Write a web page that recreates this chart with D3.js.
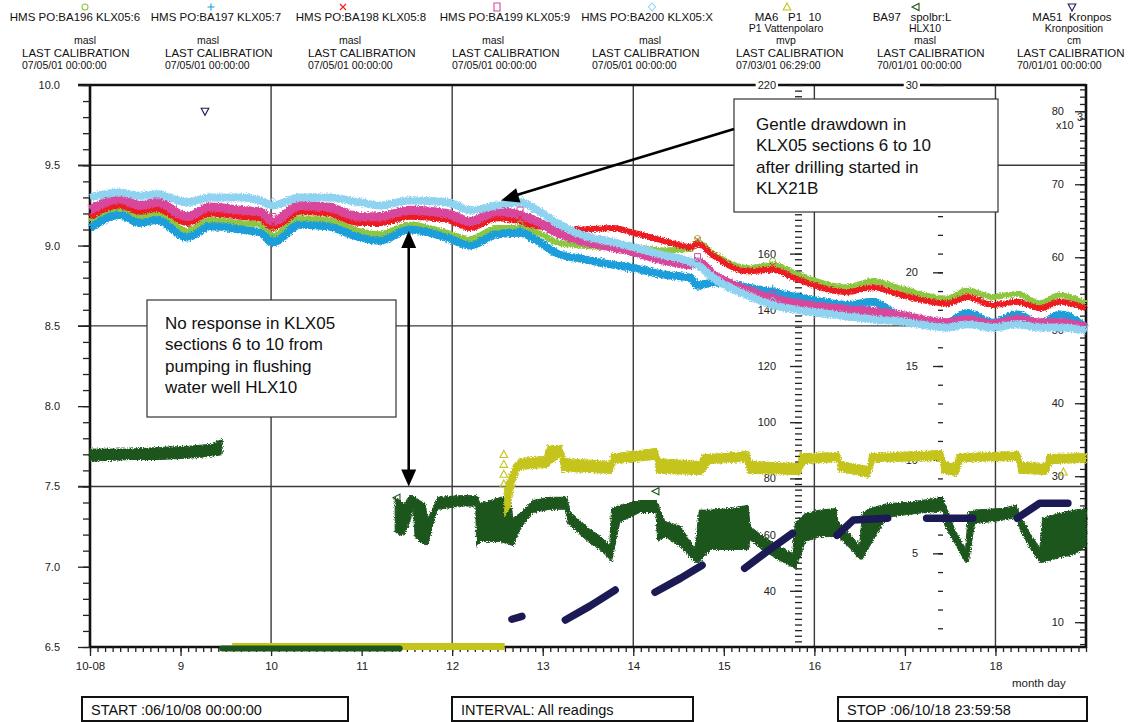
<!DOCTYPE html>
<html>
<head>
<meta charset="utf-8">
<script src="https://cdn.jsdelivr.net/npm/d3@7"></script>
<style>
body { margin: 0; background: #fff; }
</style>
</head>
<body>
<script>
// ---- data (day of October 2006, values in axis units) ----
var days = [8.00, 8.33, 8.55, 8.74, 9.07, 9.33, 9.66, 9.88, 10.02, 10.32, 10.62, 10.98, 11.20, 11.53, 11.94, 12.20, 12.49, 12.75, 12.94, 13.16,
            13.41, 13.78, 14.00, 14.33, 14.63, 14.71, 14.88, 15.26, 15.54, 15.81, 16.36, 16.65, 16.91, 17.46, 17.69, 17.97, 18.24, 18.49, 18.71, 19.00];
var klx05_6 = [9.15, 9.23, 9.18, 9.20, 9.09, 9.16, 9.14, 9.13, 9.06, 9.17, 9.16, 9.09, 9.07, 9.13, 9.08, 9.04, 9.11, 9.11, 9.08, 9.02,
               9.00, 8.99, 8.99, 8.97, 8.98, 9.02, 8.95, 8.86, 8.88, 8.82, 8.74, 8.78, 8.74, 8.67, 8.72, 8.68, 8.70, 8.64, 8.69, 8.64];
var klx05_7 = [9.11, 9.19, 9.14, 9.16, 9.05, 9.12, 9.10, 9.08, 9.02, 9.13, 9.12, 9.05, 9.03, 9.10, 9.05, 9.00, 9.07, 9.08, 9.03, 8.95,
               8.92, 8.88, 8.86, 8.82, 8.80, 8.75, 8.77, 8.74, 8.71, 8.68, 8.63, 8.65, 8.57, 8.52, 8.58, 8.52, 8.57, 8.51, 8.57, 8.49];
var klx05_8 = [9.18, 9.25, 9.21, 9.23, 9.14, 9.20, 9.18, 9.17, 9.11, 9.21, 9.20, 9.14, 9.14, 9.18, 9.16, 9.11, 9.17, 9.15, 9.12, 9.11,
               9.10, 9.11, 9.08, 9.03, 8.99, 9.01, 8.94, 8.84, 8.85, 8.79, 8.71, 8.74, 8.70, 8.64, 8.68, 8.63, 8.65, 8.61, 8.65, 8.61];
var klx05_9 = [9.22, 9.29, 9.25, 9.27, 9.18, 9.24, 9.22, 9.21, 9.15, 9.25, 9.24, 9.18, 9.18, 9.22, 9.20, 9.15, 9.21, 9.19, 9.15, 9.08,
               9.03, 8.99, 8.96, 8.91, 8.88, 8.90, 8.82, 8.72, 8.67, 8.64, 8.60, 8.59, 8.57, 8.52, 8.54, 8.51, 8.54, 8.52, 8.52, 8.49];
var klx05_x = [9.30, 9.33, 9.31, 9.32, 9.27, 9.30, 9.30, 9.28, 9.25, 9.30, 9.30, 9.27, 9.25, 9.28, 9.27, 9.22, 9.25, 9.27, 9.22, 9.14,
               9.07, 9.02, 8.99, 8.94, 8.90, 8.88, 8.80, 8.69, 8.63, 8.60, 8.56, 8.54, 8.53, 8.49, 8.51, 8.49, 8.51, 8.49, 8.49, 8.47];
var klxMarkIdx = [8, 17, 25, 28];

// HLX10 (masl) upper / lower edge of the band, null = gap
var hlxDays = [8.00, 8.44, 8.77, 9.14, 9.33, 9.46, null,
  11.37, 11.42, 11.47, 11.53, 11.57, 11.59, 11.64, 11.70, 11.73, 11.78, 11.84, 12.09, 12.26, 12.27, 12.31, 12.42, 12.53, 12.64, 12.67,
  12.75, 12.89, 13.08, 13.25, 13.27, 13.30, 13.52, 13.63, 13.74, 13.76, 13.85, 14.07, 14.25, 14.27, 14.35, 14.52, 14.68, 14.73, 14.85,
  15.07, 15.27, 15.29, 15.40, 15.56, 15.76, 15.79, 15.90, 16.06, 16.24, 16.26, 16.39, 16.50, 16.53, 16.61, 16.80, 17.06, 17.42, 17.44,
  17.55, 17.67, 17.70, 17.77, 18.05, 18.24, 18.26, 18.38, 18.49, 18.52, 18.71, 18.88, 19.00];
var hlxHi = [7.72, 7.72, 7.73, 7.74, 7.75, 7.78, null,
  7.42, 7.40, 7.38, 7.43, 7.43, 7.42, 7.40, 7.38, 7.29, 7.34, 7.42, 7.43, 7.43, 7.43, 7.38, 7.40, 7.42, 7.42, 7.29,
  7.32, 7.40, 7.42, 7.42, 7.42, 7.33, 7.22, 7.18, 7.12, 7.35, 7.37, 7.40, 7.40, 7.38, 7.27, 7.24, 7.10, 7.34, 7.34,
  7.35, 7.37, 7.24, 7.19, 7.13, 7.07, 7.26, 7.32, 7.34, 7.35, 7.27, 7.19, 7.12, 7.32, 7.35, 7.38, 7.39, 7.42, 7.38,
  7.22, 7.10, 7.32, 7.34, 7.35, 7.37, 7.32, 7.20, 7.10, 7.29, 7.32, 7.34, 7.35];
var hlxLo = [7.67, 7.68, 7.68, 7.69, 7.70, 7.71, null,
  7.23, 7.21, 7.21, 7.29, 7.38, 7.20, 7.17, 7.15, 7.15, 7.26, 7.37, 7.39, 7.39, 7.14, 7.17, 7.17, 7.17, 7.15, 7.14,
  7.25, 7.35, 7.37, 7.37, 7.29, 7.27, 7.16, 7.12, 7.06, 7.04, 7.29, 7.35, 7.35, 7.17, 7.20, 7.14, 7.04, 7.04, 7.12,
  7.12, 7.12, 7.18, 7.13, 7.07, 7.01, 7.00, 7.17, 7.20, 7.20, 7.20, 7.13, 7.06, 7.06, 7.14, 7.32, 7.34, 7.36, 7.27,
  7.16, 7.04, 7.04, 7.28, 7.30, 7.32, 7.26, 7.13, 7.04, 7.04, 7.07, 7.09, 7.14];
var hlxBelowDays = [9.46, 11.42];           // readings below 6.5 masl, drawn on the axis
var hlxMarkDays = [11.39, 14.25], hlxMarkVals = [7.43, 7.47];

// MA6 P1 10 (mvp), upper / lower edge
var ma6Days = [12.58, 12.64, 12.69, 12.75, 13.02, 13.05, 13.19, 13.21, 13.25, 13.74, 13.76, 13.80, 14.24, 14.26, 14.29, 14.73, 14.76, 14.85,
  15.23, 15.27, 15.31, 15.82, 15.84, 15.90, 16.25, 16.27, 16.30, 16.59, 16.61, 16.66, 17.39, 17.41, 17.45, 17.55, 17.58, 17.63,
  18.24, 18.26, 18.30, 18.55, 18.57, 18.62, 19.00];
var ma6Hi = [75.9, 81.2, 84.8, 86.5, 87.3, 91.2, 91.2, 91.2, 86.5, 85.5, 88.3, 88.3, 90.1, 90.1, 86.5, 85.5, 88.0, 88.0,
  89.0, 89.0, 85.5, 84.8, 88.3, 88.3, 88.7, 88.7, 85.5, 83.7, 88.3, 88.3, 89.4, 89.4, 85.5, 84.8, 88.3, 88.3,
  89.0, 89.0, 85.1, 84.8, 88.0, 88.0, 88.3];
var ma6Lo = [67.0, 70.5, 79.4, 83.7, 84.4, 84.4, 88.3, 83.0, 83.0, 82.3, 82.3, 85.8, 87.3, 82.3, 82.3, 81.9, 81.9, 85.8,
  86.5, 82.3, 82.3, 81.9, 81.9, 85.8, 86.5, 83.0, 83.0, 80.9, 80.9, 86.5, 86.9, 82.3, 82.3, 81.6, 81.6, 86.5,
  86.9, 82.3, 82.3, 81.9, 81.9, 85.8, 86.2];
var ma6BelowDays = [9.57, 12.58];
var ma6MarkDays = [12.57, 12.57, 12.57, 12.57, 18.75], ma6MarkVals = [88.5, 85.0, 81.5, 78.0, 82.3];

// MA51 Kronpos (cm x 10^3)
var kronDays = [12.66, 12.77, null, 13.25, 13.52, 13.80, null, 14.24, 14.52, 14.76, null, 15.23, 15.50, 15.76, null,
                16.25, 16.43, 16.81, null, 17.24, 17.75, null, 18.24, 18.49, 18.80];
var kronVals = [10.4, 10.8, null, 10.3, 12.2, 14.4, null, 14.1, 16.0, 17.8, null, 17.4, 19.9, 22.2, null,
                21.9, 24.0, 24.25, null, 24.25, 24.25, null, 24.25, 26.3, 26.3];
var kronMarkDays = [9.27], kronMarkVals = [80.0];

// axis tick labels
var leftTicks = [6.5, 7.0, 7.5, 8.0, 8.5, 9.0, 9.5, 10.0];
var midLabels = [40, 60, 80, 100, 120, 140, 160, 220];
var labels30 = [5, 10, 15, 20, 30];
var rightLabels = [10, 20, 30, 40, 50, 60, 70, 80];

// header and footer texts
var header1 = ["HMS PO:BA196 KLX05:6", "HMS PO:BA197 KLX05:7", "HMS PO:BA198 KLX05:8", "HMS PO:BA199 KLX05:9", "HMS PO:BA200 KLX05:X",
               "MA6   P1  10", "BA97   spolbr:L", "MA51  Kronpos"];
var header2 = ["", "", "", "", "", "P1 Vattenpolaro", "HLX10", "Kronposition"];
var header3 = ["masl", "masl", "masl", "masl", "masl", "mvp", "masl", "cm"];
var calibDates = ["07/05/01 00:00:00", "07/05/01 00:00:00", "07/05/01 00:00:00", "07/05/01 00:00:00", "07/05/01 00:00:00",
                  "07/03/01 06:29:00", "70/01/01 00:00:00", "70/01/01 00:00:00"];
var footer = ["START :06/10/08 00:00:00", "INTERVAL: All readings", "STOP :06/10/18 23:59:58"];
var note1 = ["No response in KLX05", "sections 6 to 10 from", "pumping in flushing", "water well HLX10"];
var note2 = ["Gentle drawdown in", "KLX05 sections 6 to 10", "after drilling started in", "KLX21B"];

// ---- layout ----
var W = 1134, H = 722;
var font = "'Liberation Sans', Arial, Helvetica, sans-serif";
var colors = ["#8dc63f", "#1a9edb", "#ec1c24", "#d8479b", "#8fd3f0", "#c4c41c", "#1d561d", "#1b1a55"];
var klxSeries = [klx05_6, klx05_7, klx05_8, klx05_9, klx05_x];
var klxWidth = [6, 8, 6, 9, 8];

var x = d3.scaleLinear().domain([8, 19]).range([90, 1086]);
var yL = d3.scaleLinear().domain([6.5, 10]).range([647, 85]);
var yMid = d3.scaleLinear().domain([20, 220]).range([647, 85]);
var y30 = d3.scaleLinear().domain([0, 30]).range([647, 85]);
var yR = d3.scaleLinear().domain([6.6, 83.6]).range([647, 85]);

var svg = d3.select("body").append("svg")
    .attr("width", W).attr("height", H)
    .style("font-family", font);

var defs = svg.append("defs");
var rough = defs.append("filter").attr("id", "rough")
    .attr("x", "-5%").attr("y", "-40%").attr("width", "110%").attr("height", "180%");
rough.append("feTurbulence").attr("type", "fractalNoise").attr("baseFrequency", 0.8)
    .attr("numOctaves", 1).attr("seed", 3).attr("result", "n");
rough.append("feDisplacementMap").attr("in", "SourceGraphic").attr("in2", "n")
    .attr("scale", 5).attr("xChannelSelector", "R").attr("yChannelSelector", "G");

// grid
var grid = svg.append("g").attr("stroke", "#3a3a3a").attr("stroke-width", 1.4);
grid.selectAll("line.v").data([10, 12, 14, 16, 18]).enter().append("line")
    .attr("x1", d => x(d)).attr("x2", d => x(d)).attr("y1", yL(10)).attr("y2", yL(6.5));
grid.selectAll("line.h").data([9.5, 8.5, 7.5]).enter().append("line")
    .attr("x1", 78).attr("x2", x(19)).attr("y1", d => yL(d)).attr("y2", d => yL(d));

// frame
var frame = svg.append("g").attr("stroke", "#111").attr("stroke-width", 2.6).attr("fill", "none");
frame.append("line").attr("x1", 78).attr("x2", x(19)).attr("y1", yL(10)).attr("y2", yL(10));
frame.append("line").attr("x1", x(8)).attr("x2", x(8)).attr("y1", yL(10)).attr("y2", yL(6.5));
frame.append("line").attr("x1", x(19)).attr("x2", x(19)).attr("y1", yL(10) - 1).attr("y2", yL(6.5) + 1);
frame.append("line").attr("x1", x(8)).attr("x2", x(19)).attr("y1", yL(6.5)).attr("y2", yL(6.5));

function styleAxis(g, size) {
    g.select(".domain").remove();
    g.selectAll("line").attr("stroke", "#222").attr("stroke-width", 1.3);
    g.selectAll("text").attr("font-family", font).attr("font-size", size || 11).attr("fill", "#222");
    return g;
}

// x axis
styleAxis(svg.append("g").attr("transform", "translate(0," + yL(6.5) + ")")
    .call(d3.axisBottom(x).tickValues(d3.range(0, 133).map(i => 8 + i / 12)).tickSize(5).tickFormat("")));
styleAxis(svg.append("g").attr("transform", "translate(0," + yL(6.5) + ")")
    .call(d3.axisBottom(x).tickValues(d3.range(8, 19)).tickSize(9).tickPadding(6)
        .tickFormat(d => d === 8 ? "10-08" : d)), 11.5);
svg.append("text").attr("x", 1012).attr("y", 687).attr("font-size", 11.5).attr("fill", "#222").text("month day");

// left axis (masl)
styleAxis(svg.append("g").attr("transform", "translate(" + x(8) + ",0)")
    .call(d3.axisLeft(yL).tickValues(d3.range(0, 36).map(i => 6.5 + i / 10)).tickSize(7).tickFormat("")));
styleAxis(svg.append("g").attr("transform", "translate(" + x(8) + ",0)")
    .call(d3.axisLeft(yL).tickValues(leftTicks).tickSize(12).tickPadding(18)
        .tickFormat(d3.format(".1f"))));

// middle axis (mvp): labels under the note box are not shown
styleAxis(svg.append("g").attr("transform", "translate(802,0)")
    .call(d3.axisLeft(yMid).tickValues(d3.range(22, 220, 2)).tickSize(7).tickFormat("")));
var midAx = styleAxis(svg.append("g").attr("transform", "translate(802,0)")
    .call(d3.axisLeft(yMid).tickValues(d3.range(40, 221, 20)).tickSize(12).tickPadding(14)
        .tickFormat(d => midLabels.indexOf(d) >= 0 ? d : "")));

// axis 0..30
styleAxis(svg.append("g").attr("transform", "translate(943,0)")
    .call(d3.axisLeft(y30).tickValues(d3.range(1, 30)).tickSize(5).tickFormat("")));
var ax30 = styleAxis(svg.append("g").attr("transform", "translate(943,0)")
    .call(d3.axisLeft(y30).tickValues([5, 10, 15, 20, 25, 30]).tickSize(10).tickPadding(15)
        .tickFormat(d => labels30.indexOf(d) >= 0 ? d : "")));

// right axis (x10^3)
styleAxis(svg.append("g").attr("transform", "translate(" + x(19) + ",0)")
    .call(d3.axisLeft(yR).tickValues(d3.range(7, 84)).tickSize(6).tickFormat("")));
styleAxis(svg.append("g").attr("transform", "translate(" + x(19) + ",0)")
    .call(d3.axisLeft(yR).tickValues(rightLabels).tickSize(11).tickPadding(11)));
svg.append("text").attr("x", 1056).attr("y", 129).attr("font-size", 11).attr("fill", "#222").text("x10");
svg.append("text").attr("x", 1077).attr("y", 121).attr("font-size", 11).attr("fill", "#222").text("3");

// labels sitting on the top frame get a white backing
[midAx, ax30].forEach(function (g) {
    g.selectAll(".tick").filter(d => d === 220 || d === 30).each(function () {
        var t = d3.select(this).select("text"), b = t.node().getBBox();
        d3.select(this).insert("rect", "text").attr("x", b.x - 2).attr("y", b.y + 1)
            .attr("width", b.width + 4).attr("height", b.height - 2).attr("fill", "#fff");
    });
});

// ---- data ----
var plot = svg.append("g");

var bandLine = d3.line().x(d => x(d[0])).y(d => yL(d[1])).curve(d3.curveMonotoneX);
klxSeries.forEach(function (vals, k) {
    var pts = days.map((d, i) => [d, vals[i]]);
    plot.append("path").datum(pts).attr("d", bandLine)
        .attr("fill", "none").attr("stroke", colors[k]).attr("stroke-width", klxWidth[k])
        .attr("filter", "url(#rough)");
});

// symbols used by the plotting program
var symbolPaths = [
    d3.symbol(d3.symbolCircle, 28)(),
    "M-3.5,0H3.5M0,-3.5V3.5",
    "M-3,-3L3,3M-3,3L3,-3",
    "M-3,-4H3V4H-3Z",
    "M0,-4L3.5,0L0,4L-3.5,0Z",
    "M0,-4L3.8,3H-3.8Z",
    "M-4,0L3,-3.6V3.6Z",
    "M-3.8,-3H3.8L0,4Z"
];
klxSeries.forEach(function (vals, k) {
    plot.selectAll(null).data(klxMarkIdx).enter().append("path")
        .attr("d", symbolPaths[k]).attr("fill", "none").attr("stroke", colors[k]).attr("stroke-width", 1)
        .attr("transform", i => "translate(" + x(days[i]) + "," + (yL(vals[i]) - 4) + ")");
});

// readings below the axis ranges
plot.append("path").datum(ma6BelowDays)
    .attr("d", d3.line().x(d => x(d)).y(() => yMid(20) - 0.5))
    .attr("stroke", colors[5]).attr("stroke-width", 7).attr("fill", "none");
plot.append("path").datum(hlxBelowDays)
    .attr("d", d3.line().x(d => x(d)).y(() => yL(6.5) + 1.5))
    .attr("stroke", colors[6]).attr("stroke-width", 6).attr("stroke-linecap", "round").attr("fill", "none");

// HLX10 band
var hlxPts = hlxDays.map((d, i) => [d, hlxLo[i], hlxHi[i]]);
plot.append("path").datum(hlxPts)
    .attr("d", d3.area().defined(d => d[0] !== null).x(d => x(d[0])).y0(d => yL(d[1]) + 2).y1(d => yL(d[2]) - 2))
    .attr("fill", colors[6]).attr("stroke", colors[6]).attr("stroke-width", 1).attr("filter", "url(#rough)");

// MA6 band
var ma6Pts = ma6Days.map((d, i) => [d, ma6Lo[i], ma6Hi[i]]);
plot.append("path").datum(ma6Pts)
    .attr("d", d3.area().x(d => x(d[0])).y0(d => yMid(d[1]) + 1.5).y1(d => yMid(d[2]) - 1.5))
    .attr("fill", colors[5]).attr("stroke", colors[5]).attr("stroke-width", 1).attr("filter", "url(#rough)");

// Kronpos
var kronPts = kronDays.map((d, i) => [d, kronVals[i]]);
plot.append("path").datum(kronPts)
    .attr("d", d3.line().defined(d => d[0] !== null).x(d => x(d[0])).y(d => yR(d[1])))
    .attr("fill", "none").attr("stroke", colors[7]).attr("stroke-width", 7.5)
    .attr("stroke-linecap", "round").attr("stroke-linejoin", "round");

// isolated symbols
function marks(ds, vs, scale, k) {
    plot.selectAll(null).data(ds).enter().append("path")
        .attr("d", symbolPaths[k]).attr("fill", "none").attr("stroke", colors[k]).attr("stroke-width", 1.1)
        .attr("transform", (d, i) => "translate(" + x(d) + "," + scale(vs[i]) + ")");
}
marks(ma6MarkDays, ma6MarkVals, yMid, 5);
marks(hlxMarkDays, hlxMarkVals, yL, 6);
marks(kronMarkDays, kronMarkVals, yR, 7);

// ---- annotations ----
function arrowHead(g, x1, y1, x2, y2, len, half) {
    var a = Math.atan2(y2 - y1, x2 - x1), c = Math.cos(a), s = Math.sin(a);
    var bx = x2 - len * c, by = y2 - len * s;
    g.append("path").attr("fill", "#000")
        .attr("d", "M" + x2 + "," + y2 + "L" + (bx - half * s) + "," + (by + half * c) + "L" + (bx + half * s) + "," + (by - half * c) + "Z");
}
var ann = svg.append("g");
function noteBox(x0, y0, w, h, lines, tx, ty) {
    ann.append("rect").attr("x", x0).attr("y", y0).attr("width", w).attr("height", h)
        .attr("fill", "#fff").attr("stroke", "#333").attr("stroke-width", 1.2);
    ann.selectAll(null).data(lines).enter().append("text")
        .attr("x", tx).attr("y", (d, i) => ty + i * 21.3)
        .attr("font-size", 17).attr("fill", "#111").text(d => d);
}
noteBox(147, 300, 249, 117, note1, 165, 329);
noteBox(734, 99, 264, 113, note2, 756, 130);

var ax1 = x(11.52), top1 = yL(9.09), bot1 = yL(7.5);
ann.append("line").attr("x1", ax1).attr("x2", ax1).attr("y1", top1 + 12).attr("y2", bot1 - 12)
    .attr("stroke", "#000").attr("stroke-width", 2.6);
arrowHead(ann, ax1, bot1, ax1, top1, 17, 7.5);
arrowHead(ann, ax1, top1, ax1, bot1, 17, 7.5);

var tipX = x(12.54), tipY = yL(9.28);
ann.append("line").attr("x1", 734).attr("y1", 129).attr("x2", tipX + 14).attr("y2", tipY - 5)
    .attr("stroke", "#000").attr("stroke-width", 2.6);
arrowHead(ann, 734, 129, tipX, tipY, 18, 7.5);

// ---- header ----
var headX = [75, 216, 361, 505, 647, 788, 912, 1072];
var unitX = [85, 208, 350, 493, 650, 786, 925, 1074];
var calX = [22, 165, 308, 452, 592, 736, 877, 1017];
var symX = [85, 211, 343, 497, 652, 787, 916, 1072];
var head = svg.append("g").attr("font-size", 11.5).attr("fill", "#111");
header1.forEach(function (t, i) {
    head.append("path").attr("d", symbolPaths[i]).attr("fill", "none").attr("stroke", colors[i])
        .attr("stroke-width", 1.1).attr("transform", "translate(" + symX[i] + ",7)");
    head.append("text").attr("x", headX[i]).attr("y", 20.5).attr("text-anchor", "middle")
        .style("white-space", "pre").text(t);
    if (header2[i]) head.append("text").attr("x", unitX[i]).attr("y", 32.2).attr("font-size", 10.5)
        .attr("text-anchor", "middle").text(header2[i]);
    head.append("text").attr("x", unitX[i]).attr("y", 43.9).attr("font-size", 10.5)
        .attr("text-anchor", "middle").text(header3[i]);
    head.append("text").attr("x", calX[i]).attr("y", 56.6).text("LAST CALIBRATION");
    head.append("text").attr("x", calX[i]).attr("y", 68.6).attr("font-size", 10.5).text(calibDates[i]);
});

// ---- footer boxes ----
var footX = [82, 452, 838], footW = [266, 241, 249];
footer.forEach(function (t, i) {
    svg.append("rect").attr("x", footX[i]).attr("y", 697).attr("width", footW[i]).attr("height", 24)
        .attr("fill", "#fff").attr("stroke", "#111").attr("stroke-width", 2);
    svg.append("text").attr("x", footX[i] + 9).attr("y", 715).attr("font-size", 14.5).attr("fill", "#111").text(t);
});
</script>
</body>
</html>
